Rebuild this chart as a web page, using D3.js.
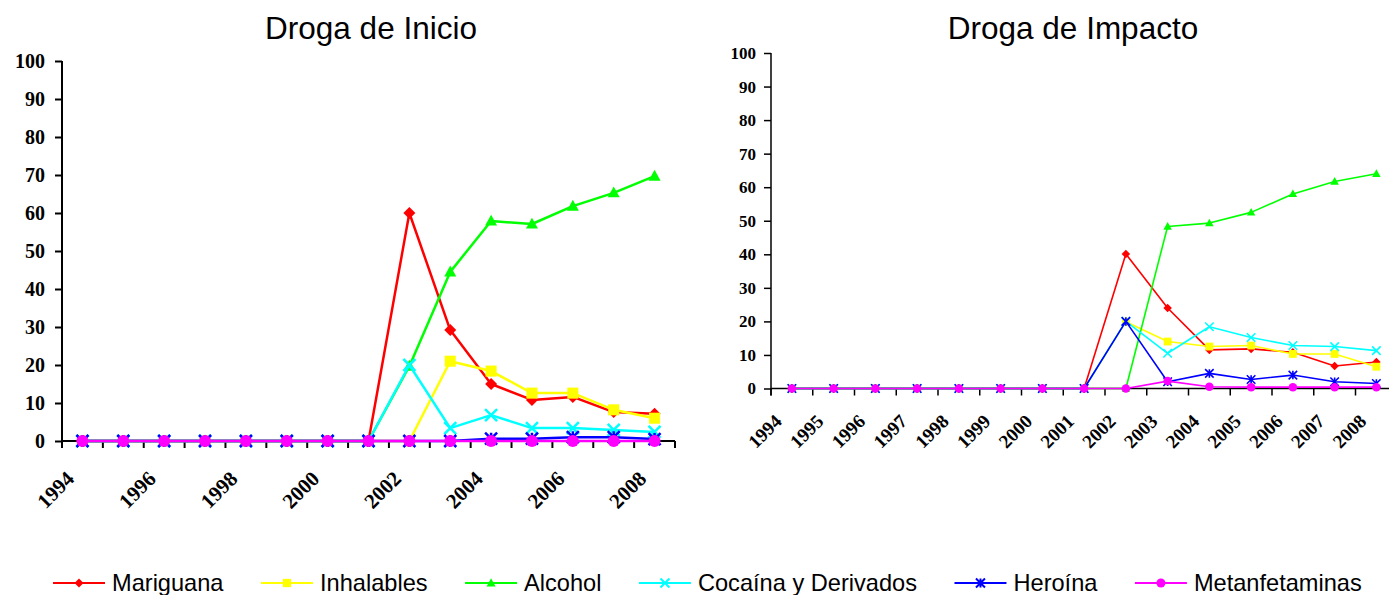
<!DOCTYPE html>
<html><head><meta charset="utf-8">
<script src="https://cdn.jsdelivr.net/npm/d3@7"></script>
<style>body{margin:0;background:#fff}svg{display:block}</style>
</head><body>
<svg id="c" width="1389" height="595"></svg>
<script>
const years = ["1994","1995","1996","1997","1998","1999","2000","2001","2002","2003","2004","2005","2006","2007","2008"];
const seriesNames = ["Mariguana","Inhalables","Alcohol","Cocaína y Derivados","Heroína","Metanfetaminas"];
const seriesColors = ["#FF0000","#FFFF00","#00FF00","#00FFFF","#0000FF","#FF00FF"];
const seriesSymbols = ["diamond","square","triangle","x","asterisk","circle"];
const yTicks = [0,10,20,30,40,50,60,70,80,90,100];

// Droga de Inicio
const inicioMariguana = [0,0,0,0,0,0,0,0,60,29.2,15,10.8,11.6,7.6,7.2];
const inicioInhalables = [0,0,0,0,0,0,0,0,0,21,18.4,12.6,12.6,8.2,6];
const inicioAlcohol = [0,0,0,0,0,0,0,0,19.7,44.5,57.9,57.1,61.8,65.3,69.7];
const inicioCocaina = [0,0,0,0,0,0,0,0,20,3.4,6.8,3.4,3.4,2.9,2.4];
const inicioHeroina = [0,0,0,0,0,0,0,0,0,0,0.6,0.6,1,1,0.5];
const inicioMetanfetaminas = [0,0,0,0,0,0,0,0,0,0,0,0,0,0,0];

// Droga de Impacto
const impactoMariguana = [0,0,0,0,0,0,0,0,40.1,24,11.5,11.8,10.8,6.7,7.9];
const impactoInhalables = [0,0,0,0,0,0,0,0,19.9,14,12.5,12.8,10.3,10.3,6.5];
const impactoAlcohol = [0,0,0,0,0,0,0,0,0,48.3,49.3,52.5,58,61.7,64];
const impactoCocaina = [0,0,0,0,0,0,0,0,20,10.5,18.4,15.2,12.8,12.5,11.3];
const impactoHeroina = [0,0,0,0,0,0,0,0,20,2,4.5,2.7,4,2,1.5];
const impactoMetanfetaminas = [0,0,0,0,0,0,0,0,0,2.2,0.5,0.4,0.4,0.4,0.4];

const inicioData = [inicioMariguana,inicioInhalables,inicioAlcohol,inicioCocaina,inicioHeroina,inicioMetanfetaminas];
const impactoData = [impactoMariguana,impactoInhalables,impactoAlcohol,impactoCocaina,impactoHeroina,impactoMetanfetaminas];

const svg = d3.select("#c");

function drawSymbol(g, type, color, s, x, y, sw) {
  const h = s/2;
  if (type === "diamond") {
    g.append("path").attr("d", `M${x},${y-h}L${x+h},${y}L${x},${y+h}L${x-h},${y}Z`).attr("fill", color);
  } else if (type === "square") {
    g.append("rect").attr("x", x-h*0.92).attr("y", y-h*0.92).attr("width", s*0.92).attr("height", s*0.92).attr("fill", color);
  } else if (type === "triangle") {
    g.append("path").attr("d", `M${x},${y-h*1.05}L${x+h},${y+h*0.75}L${x-h},${y+h*0.75}Z`).attr("fill", color);
  } else if (type === "circle") {
    g.append("circle").attr("cx", x).attr("cy", y).attr("r", h).attr("fill", color);
  } else if (type === "x" || type === "asterisk") {
    let d = `M${x-h},${y-h}L${x+h},${y+h}M${x-h},${y+h}L${x+h},${y-h}`;
    if (type === "asterisk") d += `M${x},${y-h}L${x},${y+h}`;
    g.append("path").attr("d", d).attr("stroke", color).attr("stroke-width", sw).attr("fill", "none");
  }
}

function panel(cfg) {
  const g = svg.append("g");
  const x = d3.scaleBand().domain(years).range([cfg.x0, cfg.x1]).padding(0);
  const y = d3.scaleLinear().domain([0, 100]).range([cfg.yBot, cfg.yTop]);
  const cx = d => x(d) + x.bandwidth()/2;

  g.append("text").attr("x", cfg.titleX).attr("y", 39).attr("text-anchor", "middle")
    .attr("font-family", "Liberation Sans, Arial, sans-serif").attr("font-size", 31.5).text(cfg.title);

  const ya = d3.axisLeft(y).tickValues(yTicks).tickSize(cfg.tickLen).tickPadding(cfg.yPad).tickFormat(d3.format("d"));
  const yg = g.append("g").attr("transform", `translate(${cfg.x0},0)`).call(ya);
  yg.select(".domain").attr("stroke", "#000").attr("stroke-width", cfg.axisW).attr("d", `M0,${cfg.yTop}V${cfg.yBot + cfg.tickLen}`);
  yg.selectAll(".tick line").attr("stroke", "#000").attr("stroke-width", cfg.axisW);
  yg.selectAll(".tick text").attr("font-family", "Liberation Serif, Times New Roman, serif")
    .attr("font-weight", "bold").attr("font-size", cfg.yFont).attr("fill", "#000");

  g.append("line").attr("x1", cfg.x0).attr("x2", cfg.x1).attr("y1", cfg.yBot).attr("y2", cfg.yBot)
    .attr("stroke", "#000").attr("stroke-width", cfg.axisW);
  const bounds = years.map(d => x(d)).concat([x(years[years.length-1]) + x.bandwidth()]);
  g.selectAll(".xt").data(bounds).enter().append("line")
    .attr("x1", d => d).attr("x2", d => d).attr("y1", cfg.yBot).attr("y2", cfg.yBot + cfg.tickLen)
    .attr("stroke", "#000").attr("stroke-width", cfg.axisW);
  g.selectAll(".xl").data(years.filter((d, i) => i % cfg.labelEvery === 0)).enter().append("text")
    .attr("transform", d => `translate(${cx(d) + cfg.lblDx},${cfg.yBot + cfg.lblDy}) rotate(-45)`)
    .attr("text-anchor", "end").attr("font-family", "Liberation Serif, Times New Roman, serif")
    .attr("font-weight", "bold").attr("font-size", cfg.xFont).text(d => d);

  const line = d3.line().x((v, i) => cx(years[i])).y(v => y(v));
  cfg.data.forEach((vals, si) => {
    const sg = g.append("g");
    sg.append("path").attr("d", line(vals)).attr("fill", "none").attr("stroke", seriesColors[si])
      .attr("stroke-width", cfg.lineW).attr("stroke-linejoin", "round");
    vals.forEach((v, i) => drawSymbol(sg, seriesSymbols[si], seriesColors[si], cfg.mk, cx(years[i]), y(v), cfg.lineW));
  });
}

panel({title: "Droga de Inicio", titleX: 371, x0: 62, x1: 675, yTop: 61, yBot: 441, data: inicioData,
  labelEvery: 2, yFont: 20, xFont: 21, tickLen: 7, yPad: 10, lineW: 2.5, mk: 12, axisW: 2, lblDx: -7, lblDy: 39});
panel({title: "Droga de Impacto", titleX: 1073, x0: 771, x1: 771 + 15*41.75, yTop: 53, yBot: 388.5, data: impactoData,
  labelEvery: 1, yFont: 17, xFont: 19, tickLen: 7, yPad: 8, lineW: 1.6, mk: 8.5, axisW: 1.5, lblDx: -9, lblDy: 34});

const leg = svg.append("g");
let lx = 53;
const ly = 583;
seriesNames.forEach((name, i) => {
  const g = leg.append("g");
  g.append("line").attr("x1", lx).attr("x2", lx + 52).attr("y1", ly).attr("y2", ly)
    .attr("stroke", seriesColors[i]).attr("stroke-width", 2);
  drawSymbol(g, seriesSymbols[i], seriesColors[i], 9, lx + 26, ly, 2);
  const t = g.append("text").attr("x", lx + 59).attr("y", ly + 8).attr("font-family", "Liberation Sans, Arial, sans-serif")
    .attr("font-size", 23.6).text(name);
  lx = lx + 59 + t.node().getComputedTextLength() + 37.5;
});
</script>
</body></html>
